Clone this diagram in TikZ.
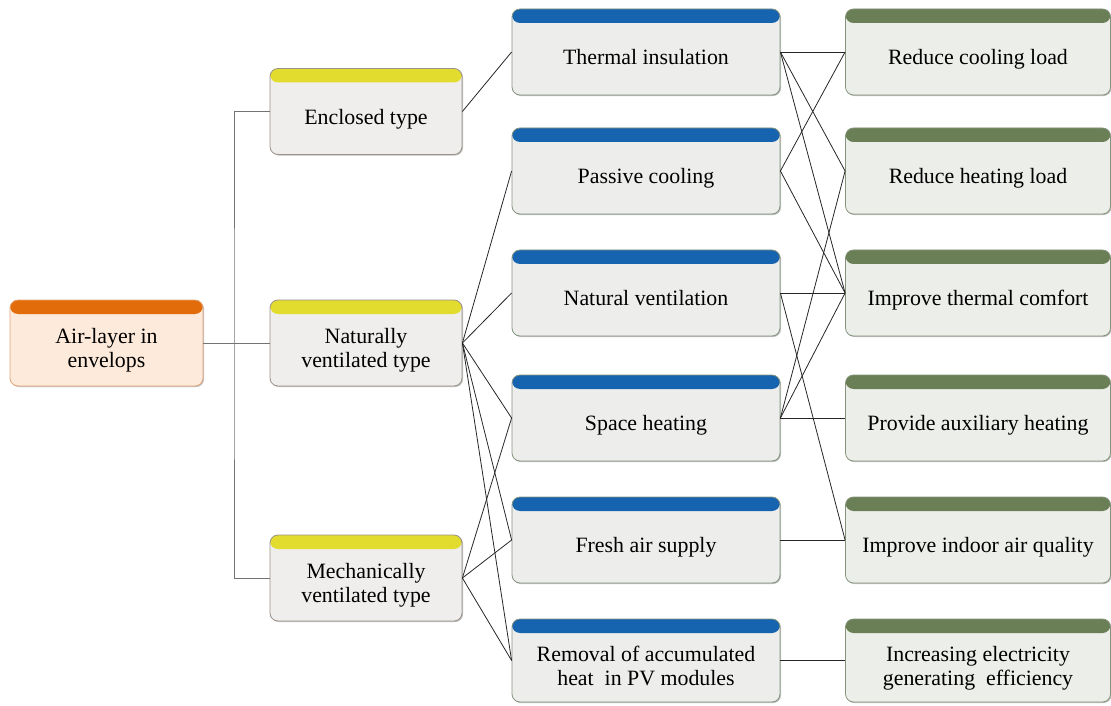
\documentclass[tikz,border=0pt]{standalone}
\usepackage{fontspec}
\setmainfont{Liberation Serif}
\usepackage{tikz}
\usetikzlibrary{positioning,calc,shadows}

\definecolor{rootHead}{HTML}{E36C0A}
\definecolor{rootFill}{HTML}{FDEADA}
\definecolor{rootLine}{HTML}{E3A47A}
\definecolor{typeHead}{HTML}{E2DC2E}
\definecolor{typeFill}{HTML}{F0EEEC}
\definecolor{typeLine}{HTML}{9A9188}
\definecolor{funcHead}{HTML}{1664B0}
\definecolor{funcFill}{HTML}{EDEEEC}
\definecolor{funcLine}{HTML}{84937F}
\definecolor{effHead}{HTML}{6A7F56}
\definecolor{effFill}{HTML}{ECEEE9}
\definecolor{effLine}{HTML}{84937A}

\newcommand{\boxtxt}[1]{\raisebox{-6pt}[\height][\depth]{\begin{tabular}{@{}c@{}}#1\end{tabular}}}

\tikzset{
  card/.style={rounded corners=6pt, line width=0.6pt, minimum height=64.5pt,
    inner sep=0pt, font=\fontsize{16.4}{18}\selectfont,
    drop shadow={shadow xshift=0.8pt, shadow yshift=-0.8pt, opacity=0.25, fill=black}},
  head/.style={path picture={\fill[#1] (path picture bounding box.north west)
    rectangle ([yshift=-10.5pt]path picture bounding box.north east);}},
  rootbox/.style={card, draw=rootLine, fill=rootFill, head=rootHead, minimum width=144.75pt},
  typebox/.style={card, draw=typeLine, fill=typeFill, head=typeHead, minimum width=144pt},
  funcbox/.style={card, draw=funcLine, fill=funcFill, head=funcHead, minimum width=201pt},
  effbox/.style={card, draw=effLine, fill=effFill, head=effHead, minimum width=198.75pt},
  link/.style={line width=0.6pt, black!85},
  tree/.style={line width=0.7pt, black!55}
}

\begin{document}
\begin{tikzpicture}[x=0.75pt, y=-0.75pt]
    \useasboundingbox (0,0) rectangle (1111,706);

    % root and types
    \node[rootbox] (air) at (106.5,343) {\boxtxt{Air-layer in\\envelops}};
    \node[typebox] (enclosed) at (366,111.5) {\boxtxt{Enclosed type}};
    \node[typebox] (natural) at (366,343) {\boxtxt{Naturally\\ventilated type}};
    \node[typebox] (mechanical) at (366,578) {\boxtxt{Mechanically\\ventilated type}};

    % functions
    \node[funcbox] (insul) at (646,52) {\boxtxt{Thermal insulation}};
    \node[funcbox] (cooling) at (646,171) {\boxtxt{Passive cooling}};
    \node[funcbox] (ventil) at (646,293) {\boxtxt{Natural ventilation}};
    \node[funcbox] (heating) at (646,418) {\boxtxt{Space heating}};
    \node[funcbox] (fresh) at (646,540) {\boxtxt{Fresh air supply}};
    \node[funcbox, minimum height=62.25pt] (pv) at (646,660.5) {\boxtxt{Removal of accumulated\\heat~ in PV modules}};

    % effects
    \node[effbox] (coolload) at (978,52) {\boxtxt{Reduce cooling load}};
    \node[effbox] (heatload) at (978,171) {\boxtxt{Reduce heating load}};
    \node[effbox] (comfort) at (978,293) {\boxtxt{Improve thermal comfort}};
    \node[effbox] (auxheat) at (978,418) {\boxtxt{Provide auxiliary heating}};
    \node[effbox] (airq) at (978,540) {\boxtxt{Improve indoor air quality}};
    \node[effbox, minimum height=62.25pt] (elec) at (978,660.5) {\boxtxt{Increasing electricity\\generating~ efficiency}};

    % tree
    \coordinate (trunk) at (234,343);
    \draw[tree] (air.east) -- (natural.west);
    \draw[tree] (enclosed.west) -| (trunk) |- (mechanical.west);

    % types -> functions
    \draw[link] (enclosed.east) -- (insul.west);
    \foreach \f in {cooling,ventil,heating,fresh,pv}
        \draw[link] (natural.east) -- (\f.west);
    \foreach \f in {heating,fresh,pv}
        \draw[link] (mechanical.east) -- (\f.west);

    % functions -> effects
    \foreach \e in {coolload,heatload,comfort}
        \draw[link] (insul.east) -- (\e.west);
    \foreach \e in {coolload,comfort}
        \draw[link] (cooling.east) -- (\e.west);
    \foreach \e in {comfort,airq}
        \draw[link] (ventil.east) -- (\e.west);
    \foreach \e in {heatload,comfort,auxheat}
        \draw[link] (heating.east) -- (\e.west);
    \draw[link] (fresh.east) -- (airq.west);
    \draw[link] (pv.east) -- (elec.west);
\end{tikzpicture}
\end{document}
